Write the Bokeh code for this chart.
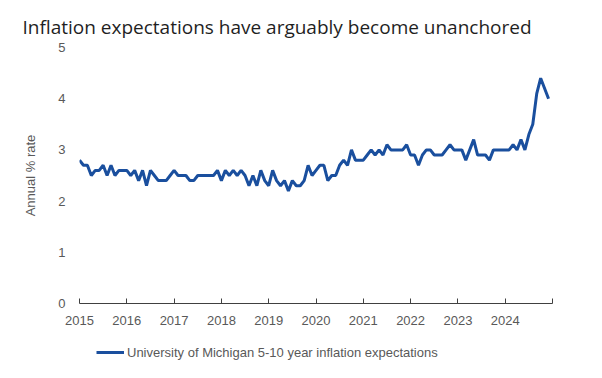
from bokeh.plotting import figure
from bokeh.models import Range1d, FixedTicker, Legend, LegendItem, Title, ColumnDataSource
from bokeh.layouts import column
from bokeh.embed import file_html
from bokeh.resources import INLINE

# Monthly data, Jan 2015 - Dec 2024
start_year = 2015
values = [
    2.8, 2.7, 2.7, 2.5, 2.6, 2.6, 2.7, 2.5, 2.7, 2.5, 2.6, 2.6,
    2.6, 2.5, 2.6, 2.4, 2.6, 2.3, 2.6, 2.5, 2.4, 2.4, 2.4, 2.5,
    2.6, 2.5, 2.5, 2.5, 2.4, 2.4, 2.5, 2.5, 2.5, 2.5, 2.5, 2.6,
    2.4, 2.6, 2.5, 2.6, 2.5, 2.6, 2.5, 2.3, 2.5, 2.3, 2.6, 2.4,
    2.3, 2.6, 2.4, 2.3, 2.4, 2.2, 2.4, 2.3, 2.3, 2.4, 2.7, 2.5,
    2.6, 2.7, 2.7, 2.4, 2.5, 2.5, 2.7, 2.8, 2.7, 3.0, 2.8, 2.8,
    2.8, 2.9, 3.0, 2.9, 3.0, 2.9, 3.1, 3.0, 3.0, 3.0, 3.0, 3.1,
    2.9, 2.9, 2.7, 2.9, 3.0, 3.0, 2.9, 2.9, 2.9, 3.0, 3.1, 3.0,
    3.0, 3.0, 2.8, 3.0, 3.2, 2.9, 2.9, 2.9, 2.8, 3.0, 3.0, 3.0,
    3.0, 3.0, 3.1, 3.0, 3.2, 3.0, 3.3, 3.5, 4.1, 4.4, 4.2, 4.0,
]
dates = [start_year + i / 12 for i in range(len(values))]
tick_years = [2015, 2016, 2017, 2018, 2019, 2020, 2021, 2022, 2023, 2024, 2025]
tick_labels = ["2015", "2016", "2017", "2018", "2019", "2020", "2021", "2022", "2023", "2024", ""]
y_ticks = [0, 1, 2, 3, 4, 5]
series_name = "University of Michigan 5-10 year inflation expectations"
title_text = "Inflation expectations have arguably become unanchored"

LINE = "#1a4f9e"
GREY = "#595959"

p = figure(width=586, height=338, output_backend="svg", toolbar_location=None,
           x_range=Range1d(2015, 2025), y_range=Range1d(0, 5),
           min_border_left=79, min_border_right=34, min_border_top=47, min_border_bottom=35)
p.outline_line_color = None
p.xgrid.visible = False
p.ygrid.visible = False

t = Title(text=title_text, text_font="Open Sans", text_font_size="19px",
          text_font_style="normal", text_color="#1f1f1f", align="left", offset=-57,
          standoff=16)
p.add_layout(t, "above")

p.line(dates, values, line_color=LINE, line_width=3)

p.xaxis.ticker = FixedTicker(ticks=tick_years)
p.xaxis.major_label_overrides = {y: l for y, l in zip(tick_years, tick_labels)}
p.xaxis.axis_line_color = "#404040"
p.xaxis.major_tick_line_color = "#404040"
p.xaxis.major_tick_in = 5
p.xaxis.major_tick_out = 0
p.xaxis.minor_tick_line_color = None
p.xaxis.major_label_text_font = "Liberation Sans"
p.xaxis.major_label_text_font_size = "13px"
p.xaxis.major_label_text_color = GREY
p.xaxis.major_label_standoff = 12

p.yaxis.ticker = FixedTicker(ticks=y_ticks)
p.yaxis.axis_line_color = None
p.yaxis.major_tick_line_color = None
p.yaxis.minor_tick_line_color = None
p.yaxis.major_label_text_font = "Liberation Sans"
p.yaxis.major_label_text_font_size = "13px"
p.yaxis.major_label_text_color = GREY
p.yaxis.major_label_standoff = 8
p.yaxis.axis_label = "Annual % rate"
p.yaxis.axis_label_text_font = "Liberation Sans"
p.yaxis.axis_label_text_font_size = "13px"
p.yaxis.axis_label_text_font_style = "normal"
p.yaxis.axis_label_text_color = GREY
p.yaxis.axis_label_standoff = 17

# Legend strip below the chart (its frame is aligned with the chart's frame)
lg = figure(width=586, height=32, output_backend="svg", toolbar_location=None,
            x_range=Range1d(0, 1), y_range=Range1d(0, 1),
            x_axis_location=None, y_axis_location=None,
            min_border_left=0, min_border_right=0, min_border_top=0, min_border_bottom=0)
lg.grid.visible = False
lg.outline_line_color = None
key = lg.line(x="x", y="y", source=ColumnDataSource(dict(x=[float("nan")], y=[float("nan")])),
              line_color=LINE, line_width=3)
legend = Legend(items=[LegendItem(label=series_name, renderers=[key])],
                orientation="horizontal", location=(17, 8),
                label_text_font="Liberation Sans", label_text_font_size="13px",
                label_text_color=GREY, glyph_width=28, label_standoff=3,
                border_line_color=None, background_fill_alpha=0,
                margin=0, padding=4)
lg.add_layout(legend, "center")

layout = column(p, lg, spacing=0)
open("out.html", "w").write(file_html(layout, INLINE))
